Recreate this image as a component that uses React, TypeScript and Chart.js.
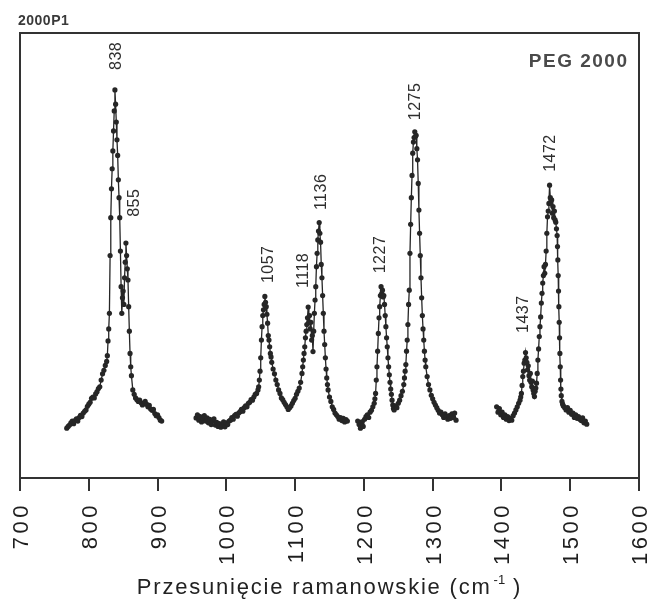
import React, { useEffect, useRef } from 'react';
import { Chart, registerables } from 'chart.js';

Chart.register(...registerables);

// ---- Data (Raman shift in cm^-1, relative intensity 0..100) ----
const seg1Wn = [768, 770, 772, 774, 776, 778, 780, 782, 784, 786, 788, 790, 792, 794, 796, 798, 800, 802, 804, 806, 808, 810, 812, 814, 816, 818, 820, 822, 824, 826, 827, 828, 829, 830, 831, 832, 833, 834, 835, 836, 837, 838, 839, 840, 841, 842, 843, 844, 845, 846, 847, 848, 849, 850, 851, 852, 853, 854, 855, 856, 857, 858, 859, 860, 861, 862, 864, 866, 868, 870, 872, 874, 876, 878, 880, 882, 884, 886, 888, 890, 892, 894, 896, 898, 900, 902, 904, 906];
const seg1Int = [11.2, 11.6, 11.9, 12.4, 12.8, 12.2, 12.9, 13.3, 12.8, 13.6, 14.1, 13.8, 14.6, 15.0, 15.3, 16.1, 16.6, 17.0, 17.9, 18.2, 18.0, 18.9, 19.4, 20.1, 20.5, 22.0, 23.4, 24.2, 25.3, 26.2, 27.5, 30.8, 33.5, 37.0, 50.0, 58.5, 65.0, 69.5, 73.5, 78.0, 82.5, 87.2, 84.0, 80.0, 76.0, 72.5, 67.0, 63.0, 58.5, 51.0, 43.0, 37.0, 40.5, 42.0, 39.0, 45.0, 48.5, 52.8, 50.0, 47.0, 44.5, 38.5, 33.0, 28.0, 25.0, 23.0, 19.8, 18.8, 18.0, 17.6, 17.2, 17.5, 16.9, 16.4, 16.8, 17.2, 16.6, 16.0, 16.3, 15.5, 15.2, 15.4, 14.5, 14.0, 14.2, 13.6, 13.0, 12.8];

const seg2Wn = [956, 958, 960, 962, 964, 966, 968, 970, 972, 974, 976, 978, 980, 982, 984, 986, 988, 990, 992, 994, 996, 998, 1000, 1002, 1004, 1006, 1008, 1010, 1012, 1014, 1016, 1018, 1020, 1022, 1024, 1026, 1028, 1030, 1032, 1034, 1036, 1038, 1040, 1042, 1044, 1046, 1047, 1048, 1049, 1050, 1051, 1052, 1053, 1054, 1055, 1056, 1057, 1058, 1059, 1060, 1061, 1062, 1063, 1064, 1065, 1066, 1068, 1070, 1072, 1074, 1076, 1078, 1080, 1082, 1084, 1086, 1088, 1090, 1092, 1094, 1096, 1098, 1100, 1102, 1104, 1106, 1108, 1110, 1111, 1112, 1113, 1114, 1115, 1116, 1117, 1118, 1119, 1120, 1121, 1122, 1123, 1124, 1125, 1126, 1127, 1128, 1129, 1130, 1131, 1132, 1133, 1134, 1135, 1136, 1137, 1138, 1139, 1140, 1141, 1142, 1143, 1144, 1145, 1146, 1147, 1148, 1150, 1152, 1154, 1156, 1158, 1160, 1162, 1164, 1166, 1168, 1170, 1172, 1174, 1176];
const seg2Int = [13.5, 14.2, 13.0, 13.8, 12.6, 13.4, 14.0, 12.8, 13.5, 12.4, 13.2, 12.0, 12.8, 13.3, 11.9, 12.5, 11.6, 12.2, 11.4, 11.8, 12.6, 11.5, 12.4, 12.0, 12.8, 13.0, 13.6, 13.2, 14.0, 14.3, 13.9, 14.6, 14.9, 15.4, 15.0, 15.8, 16.2, 16.0, 16.8, 17.0, 17.6, 17.5, 18.2, 18.8, 19.0, 19.8, 20.5, 22.0, 24.0, 27.0, 31.0, 34.0, 36.5, 37.8, 39.0, 40.8, 39.5, 38.5, 36.8, 34.8, 32.0, 31.0, 29.5, 28.0, 27.2, 26.0, 24.5, 23.4, 22.0, 21.0, 19.8, 19.0, 18.0, 17.6, 17.0, 16.5, 16.0, 15.4, 15.8, 16.2, 16.8, 17.4, 17.9, 18.8, 19.5, 20.2, 21.5, 23.5, 25.0, 26.5, 28.0, 29.5, 31.5, 33.0, 34.5, 36.0, 38.4, 35.0, 36.5, 33.5, 35.0, 31.0, 32.0, 28.4, 33.0, 37.0, 40.0, 43.0, 47.5, 50.5, 53.5, 55.5, 57.4, 55.0, 53.0, 48.0, 45.0, 41.0, 37.0, 33.0, 30.0, 27.0, 24.5, 22.5, 21.0, 19.8, 18.2, 17.2, 16.0, 15.4, 14.6, 14.2, 13.8, 13.2, 13.6, 12.9, 13.4, 12.6, 13.1, 12.8];

const seg3Wn = [1191, 1193, 1195, 1197, 1199, 1201, 1203, 1205, 1207, 1209, 1211, 1213, 1215, 1216, 1217, 1218, 1219, 1220, 1221, 1222, 1223, 1224, 1225, 1226, 1227, 1228, 1229, 1230, 1231, 1232, 1233, 1234, 1235, 1236, 1237, 1238, 1239, 1240, 1241, 1242, 1243, 1244, 1246, 1248, 1250, 1252, 1254, 1256, 1258, 1259, 1260, 1261, 1262, 1263, 1264, 1265, 1266, 1267, 1268, 1269, 1270, 1271, 1272, 1273, 1274, 1275, 1276, 1277, 1278, 1279, 1280, 1281, 1282, 1283, 1284, 1285, 1286, 1287, 1288, 1289, 1290, 1292, 1294, 1296, 1298, 1300, 1302, 1304, 1306, 1308, 1310, 1312, 1314, 1316, 1318, 1320, 1322, 1324, 1326, 1328, 1330, 1332, 1334];
const seg3Int = [12.8, 12.0, 11.2, 12.6, 11.6, 13.2, 13.8, 14.2, 13.6, 14.8, 15.2, 16.0, 16.8, 17.8, 19.0, 22.0, 25.0, 28.5, 32.5, 36.0, 38.5, 41.0, 43.0, 41.5, 42.2, 40.7, 41.0, 39.0, 36.5, 34.0, 31.5, 29.5, 27.0, 25.0, 23.2, 21.5, 20.0, 18.8, 17.5, 16.4, 15.6, 15.3, 16.2, 15.8, 16.8, 17.5, 18.5, 19.5, 21.0, 22.5, 24.0, 25.5, 28.5, 31.0, 34.5, 39.0, 42.2, 50.5, 57.0, 63.0, 68.0, 73.0, 75.5, 76.5, 77.8, 76.8, 77.0, 74.0, 71.5, 66.2, 60.2, 55.0, 50.0, 45.0, 40.5, 36.5, 33.5, 31.0, 28.5, 26.5, 25.0, 22.8, 21.0, 19.8, 18.6, 17.8, 17.0, 16.4, 15.8, 15.2, 14.6, 14.8, 14.2, 13.6, 14.4, 13.8, 13.2, 14.0, 13.4, 14.4, 13.6, 14.6, 13.0];

const seg4Wn = [1393, 1395, 1397, 1399, 1401, 1403, 1405, 1407, 1409, 1411, 1413, 1415, 1417, 1419, 1421, 1423, 1425, 1427, 1428, 1429, 1430, 1431, 1432, 1433, 1434, 1435, 1436, 1437, 1438, 1439, 1440, 1441, 1442, 1443, 1444, 1445, 1446, 1447, 1448, 1449, 1450, 1451, 1452, 1453, 1454, 1455, 1456, 1457, 1458, 1459, 1460, 1461, 1462, 1463, 1464, 1465, 1466, 1467, 1468, 1469, 1470, 1471, 1472, 1473, 1474, 1475, 1476, 1477, 1478, 1479, 1480, 1481, 1481.5, 1482, 1482.5, 1483, 1483.5, 1484, 1484.5, 1485, 1485.5, 1486, 1486.5, 1487, 1488, 1489, 1490, 1492, 1494, 1496, 1498, 1500, 1502, 1504, 1506, 1508, 1510, 1512, 1514, 1516, 1518, 1520, 1522, 1524];
const seg4Int = [16.0, 14.8, 15.6, 14.2, 14.8, 13.6, 14.2, 13.2, 13.8, 12.9, 13.4, 13.0, 14.0, 14.6, 15.3, 16.0, 16.8, 17.5, 18.2, 19.0, 20.8, 22.8, 24.0, 25.8, 26.5, 28.2, 27.0, 26.0, 24.3, 25.2, 23.0, 22.0, 23.5, 21.5, 20.5, 21.8, 19.8, 19.0, 18.3, 19.5, 20.2, 21.3, 23.5, 26.5, 29.0, 31.8, 34.0, 36.2, 39.3, 41.5, 43.8, 45.5, 47.5, 46.0, 48.0, 51.0, 55.0, 58.7, 60.0, 61.7, 65.8, 63.0, 61.8, 62.5, 59.5, 61.0, 58.5, 60.0, 58.0, 57.5, 56.0, 54.5, 52.0, 49.0, 45.5, 42.0, 38.5, 35.0, 31.5, 28.0, 25.0, 22.0, 20.0, 18.5, 17.2, 16.6, 16.2, 15.8, 15.3, 15.8, 14.8, 15.2, 14.3, 14.6, 13.6, 14.2, 13.4, 13.8, 13.2, 12.9, 13.5, 12.4, 12.8, 12.1];

const xTicks = [700, 800, 900, 1000, 1100, 1200, 1300, 1400, 1500, 1600];

// Peak annotations: text, anchor wavenumber, anchor intensity (bottom of rotated text)
const peakLabels = ['838', '855', '1057', '1118', '1136', '1227', '1275', '1437', '1472'];
const peakLabelWn = [839, 865, 1059, 1111, 1136, 1223, 1273, 1431, 1470];
const peakLabelLevel = [91.7, 58.7, 43.8, 42.7, 60.2, 46.0, 80.4, 32.6, 68.8];

const chartTitle = '2000P1';
const sampleName = 'PEG 2000';
const xTitleMain = 'Przesunięcie ramanowskie (cm';
const xTitleSup = '-1';
const xTitleEnd = ' )';

const FONT = '"Liberation Sans", Arial, Helvetica, sans-serif';

export default function App() {
  const ref = useRef<HTMLCanvasElement>(null);

  useEffect(() => {
    if (!ref.current) return;
    const segs: [number[], number[]][] = [
      [seg1Wn, seg1Int],
      [seg2Wn, seg2Int],
      [seg3Wn, seg3Int],
      [seg4Wn, seg4Int],
    ];
    const ink = '#262626';

    const decor = {
      id: 'decor',
      afterDraw(chart: any) {
        const ctx = chart.ctx as CanvasRenderingContext2D;
        const { left, right, top, bottom } = chart.chartArea;
        const xs = chart.scales.x;
        const ys = chart.scales.y;
        ctx.save();
        // frame
        ctx.strokeStyle = '#333';
        ctx.lineWidth = 2;
        ctx.strokeRect(left, top, right - left, bottom - top);

        // tick labels (rotated)
        ctx.fillStyle = '#1e1e1e';
        ctx.font = `22px ${FONT}`;
        (ctx as any).letterSpacing = '3.5px';
        ctx.textAlign = 'right';
        ctx.textBaseline = 'alphabetic';
        for (const t of xTicks) {
          const px = xs.getPixelForValue(t);
          ctx.save();
          ctx.translate(px, bottom + 24);
          ctx.rotate(-Math.PI / 2);
          ctx.fillText(String(t), 0, 8);
          ctx.restore();
        }

        // peak labels
        ctx.fillStyle = '#2e2e2e';
        ctx.font = `16px ${FONT}`;
        (ctx as any).letterSpacing = '0.5px';
        ctx.textAlign = 'left';
        peakLabels.forEach((lab, i) => {
          const px = xs.getPixelForValue(peakLabelWn[i]);
          const py = ys.getPixelForValue(peakLabelLevel[i]);
          ctx.save();
          ctx.translate(px, py);
          ctx.rotate(-Math.PI / 2);
          ctx.fillText(lab, 0, 5.7);
          ctx.restore();
        });

        // top-left title
        ctx.fillStyle = '#3a3a3a';
        ctx.font = `bold 14px ${FONT}`;
        (ctx as any).letterSpacing = '0.5px';
        ctx.textAlign = 'left';
        ctx.fillText(chartTitle, 18, 25);

        // sample name
        ctx.fillStyle = '#4a4a4a';
        ctx.font = `bold 19px ${FONT}`;
        (ctx as any).letterSpacing = '1.5px';
        ctx.textAlign = 'right';
        ctx.fillText(sampleName, 628.5, 67);

        // x-axis title
        ctx.fillStyle = '#222';
        ctx.textAlign = 'left';
        ctx.font = `22px ${FONT}`;
        (ctx as any).letterSpacing = '1.8px';
        const w1 = ctx.measureText(xTitleMain).width;
        ctx.font = `13px ${FONT}`;
        (ctx as any).letterSpacing = '0px';
        const w2 = ctx.measureText(xTitleSup).width;
        ctx.font = `22px ${FONT}`;
        (ctx as any).letterSpacing = '1.8px';
        const w3 = ctx.measureText(xTitleEnd).width;
        const total = w1 + 2 + w2 + w3;
        let x0 = (left + right) / 2 - total / 2;
        const base = 594;
        ctx.fillText(xTitleMain, x0, base);
        x0 += w1 + 2;
        ctx.font = `13px ${FONT}`;
        (ctx as any).letterSpacing = '0px';
        ctx.fillText(xTitleSup, x0, base - 10);
        x0 += w2;
        ctx.font = `22px ${FONT}`;
        (ctx as any).letterSpacing = '1.8px';
        ctx.fillText(xTitleEnd, x0, base);
        (ctx as any).letterSpacing = '0px';
        ctx.restore();
      },
    };

    const chart = new Chart(ref.current, {
      type: 'line',
      data: {
        datasets: segs.map(([w, v]) => ({
          data: w.map((x, i) => ({ x, y: v[i] })),
          borderColor: ink,
          borderWidth: 1.3,
          pointRadius: 2.6,
          pointBackgroundColor: ink,
          pointBorderWidth: 0,
          tension: 0,
          fill: false,
        })),
      },
      options: {
        animation: false,
        responsive: false,
        maintainAspectRatio: false,
        layout: { padding: { left: 20, right: 10, top: 33, bottom: 0 } },
        plugins: { legend: { display: false }, tooltip: { enabled: false }, title: { display: false } },
        scales: {
          x: {
            type: 'linear',
            min: 700,
            max: 1600,
            afterBuildTicks: (s: any) => {
              s.ticks = xTicks.map((v) => ({ value: v }));
            },
            afterFit: (s: any) => {
              s.height = 126;
            },
            ticks: { display: false },
            grid: { drawOnChartArea: false, drawTicks: true, tickLength: 13, color: '#333', lineWidth: 2 },
            border: { display: false },
          },
          y: { display: false, min: 0, max: 100 },
        },
      },
      plugins: [decor],
    });
    return () => chart.destroy();
  }, []);

  return (
    <div style={{ position: 'absolute', left: 0, top: 0, width: 649, height: 604, background: '#fff' }}>
      <canvas ref={ref} width={649} height={604} style={{ display: 'block' }} />
    </div>
  );
}
